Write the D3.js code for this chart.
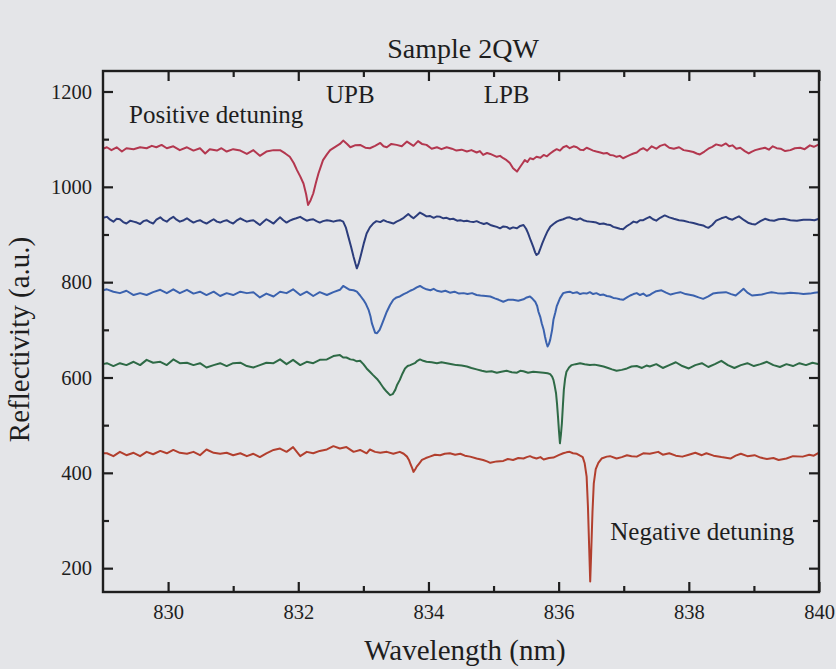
<!DOCTYPE html>
<html><head><meta charset="utf-8">
<script src="https://cdn.jsdelivr.net/npm/d3@7"></script>
<style>html,body{margin:0;padding:0;background:#e4e5e8;} svg{display:block;}</style>
</head><body><svg id="chart" width="836" height="669"></svg>
<script>
const xDomain = [829, 840];
const yDomain = [150, 1243];
const xMajorTicks = [830, 832, 834, 836, 838, 840];
const xMinorTicks = [831, 833, 835, 837, 839];
const yMajorTicks = [200, 400, 600, 800, 1000, 1200];
const yMinorTicks = [300, 500, 700, 900, 1100];
const titleText = "Sample 2QW";
const xLabel = "Wavelength (nm)";
const yLabel = "Reflectivity (a.u.)";
const annotations = [
  {text: "Positive detuning", x: 829.4, y: 1134, anchor: "start"},
  {text: "UPB", x: 832.8, y: 1176, anchor: "middle"},
  {text: "LPB", x: 835.2, y: 1176, anchor: "middle"},
  {text: "Negative detuning", x: 839.62, y: 259, anchor: "end"}
];
const seriesColors = ["#b3374f", "#2c3d7c", "#3b62ae", "#2e6a46", "#b23f2e"];

const series1 = [[829.0,1080],[829.06,1083],[829.13,1077],[829.21,1083],[829.29,1074],[829.36,1081],[829.47,1079],[829.57,1083],[829.67,1081],[829.75,1086],[829.82,1083],[829.9,1088],[829.98,1081],[830.08,1085],[830.18,1077],[830.29,1083],[830.39,1076],[830.49,1081],[830.57,1070],[830.64,1079],[830.75,1076],[830.82,1081],[830.9,1074],[831.0,1079],[831.11,1076],[831.21,1069],[831.31,1077],[831.41,1065],[831.51,1074],[831.62,1077],[831.72,1077],[831.8,1070],[831.87,1063],[831.93,1050],[831.98,1035],[832.03,1022],[832.08,1007],[832.12,985],[832.15,962],[832.19,972],[832.23,986],[832.27,1008],[832.31,1028],[832.38,1056],[832.44,1068],[832.49,1077],[832.58,1085],[832.64,1090],[832.69,1097],[832.75,1090],[832.8,1083],[832.87,1087],[832.95,1088],[833.03,1082],[833.1,1081],[833.18,1086],[833.26,1092],[833.31,1085],[833.36,1083],[833.43,1090],[833.51,1088],[833.59,1085],[833.67,1095],[833.77,1086],[833.84,1096],[833.9,1090],[833.97,1088],[834.05,1080],[834.13,1083],[834.2,1079],[834.28,1083],[834.36,1080],[834.43,1076],[834.51,1078],[834.59,1074],[834.66,1077],[834.74,1072],[834.79,1075],[834.84,1067],[834.9,1071],[834.95,1069],[835.0,1066],[835.05,1063],[835.1,1065],[835.15,1060],[835.2,1056],[835.25,1050],[835.3,1039],[835.36,1032],[835.41,1042],[835.45,1050],[835.48,1056],[835.52,1052],[835.56,1060],[835.61,1058],[835.66,1063],[835.72,1061],[835.77,1067],[835.82,1064],[835.87,1070],[835.92,1075],[835.97,1079],[836.02,1076],[836.07,1083],[836.12,1086],[836.17,1081],[836.23,1085],[836.28,1083],[836.33,1078],[836.38,1077],[836.43,1082],[836.48,1079],[836.53,1076],[836.58,1074],[836.64,1072],[836.69,1070],[836.74,1071],[836.79,1067],[836.84,1066],[836.89,1063],[836.94,1065],[836.99,1060],[837.05,1064],[837.1,1067],[837.15,1070],[837.2,1072],[837.25,1078],[837.3,1081],[837.36,1076],[837.43,1085],[837.5,1080],[837.56,1086],[837.63,1089],[837.7,1082],[837.77,1080],[837.85,1083],[837.92,1077],[838.0,1075],[838.07,1073],[838.12,1070],[838.17,1068],[838.24,1074],[838.3,1080],[838.36,1084],[838.42,1089],[838.5,1086],[838.57,1091],[838.62,1085],[838.67,1087],[838.73,1080],[838.79,1082],[838.86,1075],[838.92,1070],[838.97,1074],[839.02,1077],[839.1,1080],[839.17,1082],[839.23,1078],[839.29,1085],[839.35,1081],[839.41,1080],[839.48,1075],[839.56,1077],[839.63,1081],[839.71,1082],[839.78,1079],[839.86,1087],[839.92,1084],[840.0,1089]];

const series2 = [[829.0,935],[829.06,937],[829.11,931],[829.16,927],[829.21,933],[829.26,932],[829.31,926],[829.36,923],[829.42,929],[829.47,927],[829.52,925],[829.57,922],[829.62,928],[829.67,930],[829.72,926],[829.77,923],[829.82,931],[829.88,936],[829.93,930],[829.98,927],[830.03,933],[830.08,937],[830.13,931],[830.18,927],[830.24,930],[830.29,934],[830.34,929],[830.39,925],[830.44,928],[830.49,930],[830.54,926],[830.59,923],[830.65,928],[830.7,932],[830.75,927],[830.8,925],[830.85,928],[830.9,930],[830.95,926],[831.0,923],[831.05,929],[831.11,934],[831.16,930],[831.21,927],[831.26,929],[831.31,930],[831.36,925],[831.41,920],[831.46,926],[831.51,932],[831.56,928],[831.62,923],[831.67,930],[831.72,936],[831.77,930],[831.82,925],[831.87,929],[831.92,932],[831.97,934],[832.03,937],[832.08,933],[832.13,929],[832.18,931],[832.23,932],[832.28,928],[832.33,925],[832.38,928],[832.44,930],[832.49,929],[832.54,927],[832.59,929],[832.64,930],[832.69,927],[832.73,915],[832.77,895],[832.81,875],[832.85,853],[832.88,838],[832.9,829],[832.93,840],[832.97,861],[833.01,883],[833.05,902],[833.1,915],[833.15,923],[833.2,928],[833.26,926],[833.31,930],[833.36,927],[833.41,925],[833.46,923],[833.51,927],[833.56,930],[833.62,935],[833.69,943],[833.73,938],[833.77,934],[833.82,940],[833.87,946],[833.92,942],[833.97,938],[834.02,939],[834.08,935],[834.13,938],[834.18,937],[834.23,934],[834.28,935],[834.33,932],[834.38,933],[834.44,929],[834.49,930],[834.54,928],[834.59,929],[834.64,927],[834.69,926],[834.74,928],[834.79,925],[834.85,922],[834.9,924],[834.95,920],[835.0,918],[835.05,916],[835.1,913],[835.15,917],[835.2,916],[835.25,912],[835.3,915],[835.36,913],[835.41,918],[835.46,920],[835.5,912],[835.53,903],[835.57,888],[835.61,874],[835.64,862],[835.66,857],[835.69,860],[835.71,867],[835.75,882],[835.79,895],[835.83,907],[835.87,916],[835.92,922],[835.97,927],[836.02,930],[836.07,932],[836.12,935],[836.17,936],[836.22,933],[836.28,931],[836.33,934],[836.38,930],[836.43,928],[836.48,927],[836.53,926],[836.58,925],[836.63,922],[836.69,923],[836.74,921],[836.79,920],[836.84,916],[836.89,914],[836.94,912],[836.99,911],[837.04,917],[837.1,922],[837.15,927],[837.2,925],[837.25,930],[837.3,930],[837.35,934],[837.4,937],[837.45,932],[837.5,929],[837.56,935],[837.63,940],[837.7,936],[837.77,933],[837.85,930],[837.92,929],[838.0,926],[838.07,924],[838.15,921],[838.22,919],[838.26,916],[838.3,914],[838.36,920],[838.42,929],[838.5,934],[838.57,937],[838.62,933],[838.67,931],[838.72,935],[838.77,938],[838.85,930],[838.92,924],[838.97,922],[839.02,921],[839.1,928],[839.17,933],[839.24,930],[839.31,929],[839.38,932],[839.46,933],[839.56,930],[839.66,929],[839.76,931],[839.86,931],[839.93,930],[840.0,933]];

const series3 = [[829.0,783],[829.06,785],[829.16,780],[829.26,777],[829.36,782],[829.47,773],[829.57,777],[829.67,773],[829.77,779],[829.88,784],[829.98,777],[830.08,785],[830.18,777],[830.29,784],[830.39,776],[830.49,780],[830.59,773],[830.7,780],[830.8,771],[830.9,777],[831.0,773],[831.11,780],[831.21,777],[831.31,779],[831.41,768],[831.51,776],[831.62,770],[831.72,780],[831.82,777],[831.92,785],[832.03,773],[832.13,780],[832.23,771],[832.33,779],[832.44,773],[832.54,779],[832.64,784],[832.69,792],[832.74,788],[832.79,784],[832.85,783],[832.9,780],[832.95,772],[833.0,763],[833.04,754],[833.08,742],[833.11,728],[833.13,714],[833.16,702],[833.18,694],[833.21,693],[833.25,700],[833.28,710],[833.32,724],[833.36,738],[833.41,752],[833.46,763],[833.51,768],[833.56,770],[833.62,775],[833.67,778],[833.72,782],[833.77,785],[833.82,789],[833.87,792],[833.92,788],[833.97,785],[834.03,783],[834.08,786],[834.13,782],[834.2,780],[834.26,782],[834.33,778],[834.4,780],[834.47,776],[834.54,777],[834.6,775],[834.67,777],[834.74,773],[834.8,772],[834.88,771],[834.95,770],[835.02,766],[835.08,763],[835.15,759],[835.22,763],[835.3,763],[835.38,761],[835.46,764],[835.51,768],[835.56,770],[835.6,765],[835.64,759],[835.67,750],[835.69,738],[835.72,726],[835.74,714],[835.77,700],[835.79,686],[835.81,674],[835.83,665],[835.85,670],[835.87,679],[835.9,700],[835.92,721],[835.95,737],[835.97,749],[836.02,766],[836.07,777],[836.12,779],[836.17,780],[836.22,777],[836.28,779],[836.33,775],[836.38,777],[836.43,776],[836.48,779],[836.53,775],[836.58,777],[836.64,773],[836.69,774],[836.74,771],[836.79,770],[836.84,767],[836.89,766],[836.94,764],[836.99,763],[837.05,768],[837.1,772],[837.15,775],[837.2,777],[837.25,773],[837.3,776],[837.35,771],[837.4,773],[837.43,776],[837.5,781],[837.58,783],[837.65,778],[837.72,774],[837.8,777],[837.87,779],[837.95,775],[838.07,772],[838.15,768],[838.22,765],[838.3,770],[838.37,776],[838.45,778],[838.57,779],[838.65,775],[838.72,772],[838.78,779],[838.84,786],[838.9,778],[838.97,772],[839.05,773],[839.12,774],[839.2,777],[839.27,779],[839.36,777],[839.46,776],[839.56,778],[839.66,777],[839.76,775],[839.86,776],[839.93,778],[840.0,779]];

const series4 = [[829.0,628],[829.06,630],[829.16,624],[829.26,630],[829.36,626],[829.47,633],[829.57,626],[829.67,637],[829.77,631],[829.88,633],[829.98,626],[830.08,638],[830.18,630],[830.29,631],[830.39,626],[830.49,630],[830.59,621],[830.7,626],[830.8,630],[830.9,624],[831.0,630],[831.11,631],[831.21,624],[831.31,621],[831.41,626],[831.51,631],[831.62,630],[831.72,638],[831.82,628],[831.92,637],[832.03,626],[832.13,633],[832.23,630],[832.33,637],[832.44,638],[832.54,645],[832.64,647],[832.69,642],[832.74,642],[832.8,638],[832.85,637],[832.9,634],[832.95,635],[833.0,628],[833.05,619],[833.1,612],[833.15,605],[833.21,597],[833.26,588],[833.31,578],[833.36,570],[833.41,563],[833.45,565],[833.49,574],[833.52,585],[833.56,595],[833.6,608],[833.64,619],[833.68,624],[833.72,626],[833.79,630],[833.83,635],[833.87,638],[833.92,635],[833.97,633],[834.05,632],[834.13,630],[834.2,632],[834.28,630],[834.36,628],[834.43,626],[834.51,625],[834.59,623],[834.66,620],[834.74,617],[834.82,614],[834.89,612],[834.97,613],[835.05,610],[835.12,612],[835.2,614],[835.28,611],[835.36,610],[835.41,614],[835.46,613],[835.53,610],[835.61,612],[835.69,611],[835.77,610],[835.83,609],[835.87,607],[835.9,602],[835.92,595],[835.94,582],[835.96,567],[835.975,545],[835.99,518],[836.005,488],[836.02,462],[836.035,480],[836.05,504],[836.065,540],[836.08,574],[836.1,598],[836.12,612],[836.16,621],[836.2,626],[836.26,628],[836.33,630],[836.4,628],[836.48,626],[836.55,627],[836.62,625],[836.69,623],[836.76,620],[836.82,617],[836.89,614],[836.97,616],[837.05,619],[837.12,623],[837.2,624],[837.28,620],[837.35,625],[837.4,623],[837.5,628],[837.6,620],[837.7,626],[837.8,632],[837.9,624],[838.0,619],[838.1,626],[838.2,630],[838.3,622],[838.4,628],[838.5,635],[838.6,626],[838.7,620],[838.8,626],[838.9,630],[839.0,624],[839.1,628],[839.2,633],[839.3,626],[839.4,622],[839.5,628],[839.6,624],[839.7,630],[839.8,626],[839.9,631],[840.0,628]];

const series5 = [[829.0,441],[829.06,441],[829.16,435],[829.26,444],[829.36,437],[829.47,442],[829.57,435],[829.67,444],[829.77,439],[829.88,446],[829.98,441],[830.08,448],[830.18,442],[830.29,440],[830.39,444],[830.49,437],[830.59,449],[830.7,442],[830.8,440],[830.9,442],[831.0,437],[831.11,441],[831.21,435],[831.31,440],[831.41,433],[831.51,441],[831.62,448],[831.72,451],[831.82,444],[831.92,454],[832.03,435],[832.13,444],[832.23,441],[832.33,446],[832.44,449],[832.54,456],[832.64,451],[832.74,454],[832.85,444],[832.95,448],[833.05,441],[833.1,449],[833.18,444],[833.26,442],[833.36,444],[833.46,440],[833.56,444],[833.62,440],[833.67,434],[833.7,427],[833.72,420],[833.75,410],[833.77,402],[833.8,408],[833.82,413],[833.86,420],[833.9,427],[833.96,431],[834.02,434],[834.1,438],[834.18,437],[834.25,440],[834.33,441],[834.41,438],[834.49,440],[834.56,436],[834.64,434],[834.74,430],[834.84,427],[834.9,424],[834.95,421],[835.05,424],[835.15,425],[835.22,429],[835.3,427],[835.38,431],[835.46,430],[835.51,433],[835.56,435],[835.61,432],[835.66,430],[835.72,433],[835.77,428],[835.85,431],[835.92,432],[836.0,437],[836.07,441],[836.12,443],[836.17,444],[836.22,441],[836.28,440],[836.33,436],[836.37,433],[836.4,420],[836.43,392],[836.45,330],[836.47,240],[836.485,172],[836.5,232],[836.52,318],[836.54,378],[836.57,408],[836.61,421],[836.66,430],[836.74,434],[836.79,435],[836.89,430],[836.97,433],[837.05,437],[837.12,435],[837.2,434],[837.3,441],[837.4,440],[837.53,444],[837.6,438],[837.7,441],[837.8,436],[837.9,434],[838.0,438],[838.1,442],[838.2,437],[838.27,441],[838.38,436],[838.5,433],[838.64,430],[838.72,436],[838.8,440],[838.9,435],[839.01,437],[839.1,432],[839.2,429],[839.3,431],[839.38,427],[839.5,430],[839.6,435],[839.75,434],[839.85,438],[839.92,436],[839.98,441],[840.0,441]];

const allSeries = [series1, series2, series3, series4, series5];

const W = 836, H = 669;
const frame = {left: 103, right: 819, top: 71, bottom: 592};
const serif = "'Liberation Serif', 'DejaVu Serif', serif";
const ink = "#1e1e1e";

const svg = d3.select("#chart");
svg.append("rect").attr("width", W).attr("height", H).attr("fill", "#e4e5e8");

const x = d3.scaleLinear().domain(xDomain).range([frame.left, frame.right]);
const y = d3.scaleLinear().domain(yDomain).range([frame.bottom, frame.top]);

const line = d3.line().x(d => x(d[0])).y(d => y(d[1]));
allSeries.forEach((s, i) => {
  svg.append("path").datum(s).attr("d", line)
    .attr("fill", "none").attr("stroke", seriesColors[i])
    .attr("stroke-width", 2).attr("stroke-linejoin", "round");
});

function styleAxis(g, fontSize) {
  g.select(".domain").remove();
  g.selectAll(".tick line").attr("stroke", ink).attr("stroke-width", 2.2);
  g.selectAll(".tick text").attr("fill", ink).attr("font-family", serif).attr("font-size", fontSize);
}

// bottom
svg.append("g").attr("transform", `translate(0,${frame.bottom})`)
  .call(d3.axisBottom(x).tickValues(xMajorTicks).tickSize(-10).tickPadding(12).tickFormat(d3.format("d")))
  .call(g => styleAxis(g, 20.5));
svg.append("g").attr("transform", `translate(0,${frame.bottom})`)
  .call(d3.axisBottom(x).tickValues(xMinorTicks).tickSize(-6).tickFormat(""))
  .call(g => styleAxis(g, 20));
// top
svg.append("g").attr("transform", `translate(0,${frame.top})`)
  .call(d3.axisTop(x).tickValues(xMajorTicks).tickSize(-10).tickFormat(""))
  .call(g => styleAxis(g, 20));
svg.append("g").attr("transform", `translate(0,${frame.top})`)
  .call(d3.axisTop(x).tickValues(xMinorTicks).tickSize(-6).tickFormat(""))
  .call(g => styleAxis(g, 20));
// left
svg.append("g").attr("transform", `translate(${frame.left},0)`)
  .call(d3.axisLeft(y).tickValues(yMajorTicks).tickSize(-10).tickPadding(11).tickFormat(d3.format("d")))
  .call(g => styleAxis(g, 20.5));
svg.append("g").attr("transform", `translate(${frame.left},0)`)
  .call(d3.axisLeft(y).tickValues(yMinorTicks).tickSize(-6).tickFormat(""))
  .call(g => styleAxis(g, 20));
// right
svg.append("g").attr("transform", `translate(${frame.right},0)`)
  .call(d3.axisRight(y).tickValues(yMajorTicks).tickSize(-10).tickFormat(""))
  .call(g => styleAxis(g, 20));
svg.append("g").attr("transform", `translate(${frame.right},0)`)
  .call(d3.axisRight(y).tickValues(yMinorTicks).tickSize(-6).tickFormat(""))
  .call(g => styleAxis(g, 20));

// frame
svg.append("rect")
  .attr("x", frame.left).attr("y", frame.top)
  .attr("width", frame.right - frame.left).attr("height", frame.bottom - frame.top)
  .attr("fill", "none").attr("stroke", ink).attr("stroke-width", 2.4);

// title and axis labels
svg.append("text").attr("x", (frame.left + frame.right) / 2 + 2).attr("y", 58)
  .attr("text-anchor", "middle").attr("font-family", serif).attr("font-size", 28)
  .attr("fill", ink).text(titleText);
svg.append("text").attr("x", (frame.left + frame.right) / 2 + 4).attr("y", 660)
  .attr("text-anchor", "middle").attr("font-family", serif).attr("font-size", 29)
  .attr("fill", ink).text(xLabel);
svg.append("text")
  .attr("transform", `translate(29,${(frame.top + frame.bottom) / 2 + 8}) rotate(-90)`)
  .attr("text-anchor", "middle").attr("font-family", serif).attr("font-size", 29)
  .attr("fill", ink).text(yLabel);

annotations.forEach(a => {
  svg.append("text").attr("x", x(a.x)).attr("y", y(a.y))
    .attr("text-anchor", a.anchor).attr("font-family", serif).attr("font-size", 25)
    .attr("fill", ink).text(a.text);
});
</script>
</body></html>
